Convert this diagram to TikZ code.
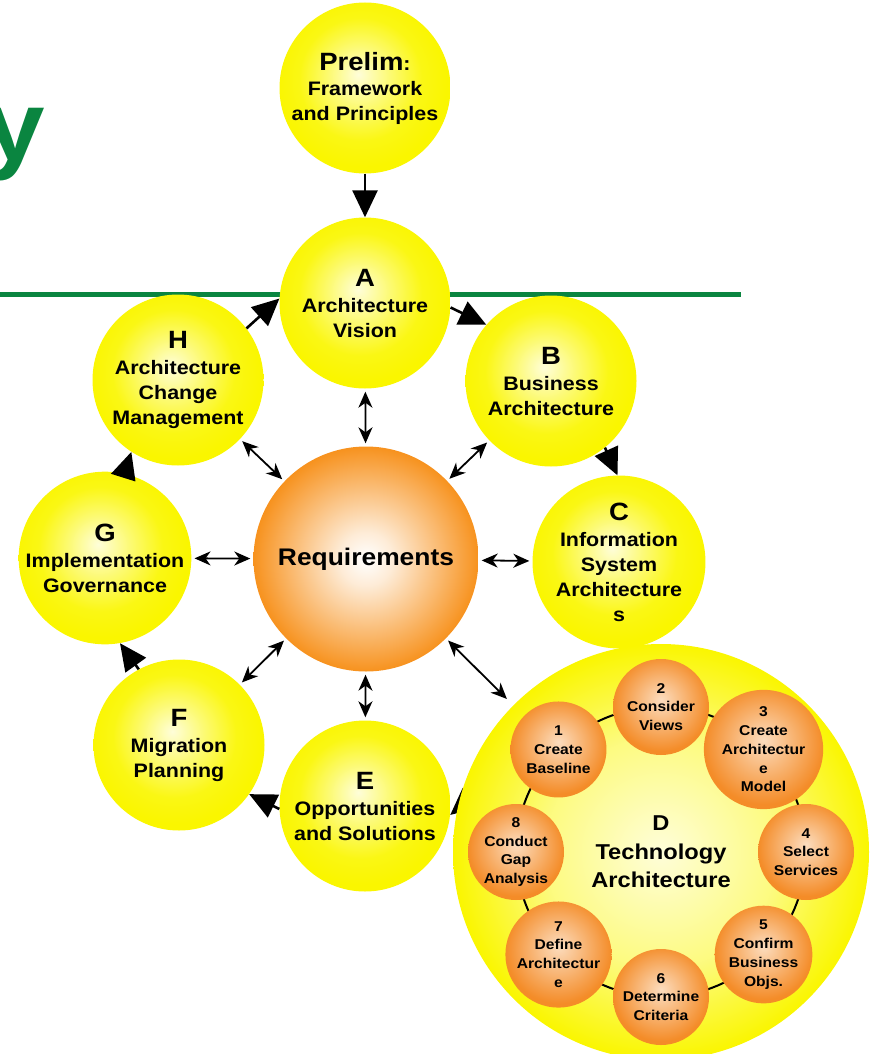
\documentclass[tikz,border=0pt]{standalone}
\usepackage{fontspec}
\setmainfont{Liberation Sans}[FakeStretch=1.1]
\usetikzlibrary{arrows.meta}
\definecolor{togafgreen}{RGB}{10,133,64}
\definecolor{ballyellow}{RGB}{250,246,0}
\definecolor{reqorange}{RGB}{247,146,30}
\definecolor{steporange}{RGB}{244,140,40}
\pgfdeclareradialshading{phaseshade}{\pgfpoint{-2bp}{4bp}}{color(0bp)=(white!85!ballyellow); color(9bp)=(white!45!ballyellow); color(18bp)=(white!8!ballyellow); color(25bp)=(ballyellow); color(50bp)=(ballyellow)}
\pgfdeclareradialshading{reqshade}{\pgfpoint{0bp}{0bp}}{color(0bp)=(white); color(6bp)=(white!82!reqorange); color(25bp)=(reqorange); color(50bp)=(reqorange)}
\pgfdeclareradialshading{stepshade}{\pgfpoint{0bp}{4bp}}{color(0bp)=(white!70!steporange); color(25bp)=(steporange); color(50bp)=(steporange)}
\pgfdeclareradialshading{techshade}{\pgfpoint{0bp}{0bp}}{color(0bp)=(white!85!ballyellow); color(14bp)=(white!50!ballyellow); color(25bp)=(ballyellow); color(50bp)=(ballyellow)}
\newcommand{\phasetext}[2]{{\fontsize{25}{26}\selectfont #1}\\[1pt]#2}

\begin{document}
\begin{tikzpicture}[x=1pt,y=-1pt,
  phasenode/.style={circle,minimum size=171pt,inner sep=0pt,shading=phaseshade,align=center,font=\bfseries\fontsize{19.5}{25}\selectfont},
  reqnode/.style={circle,minimum size=225pt,inner sep=0pt,shading=reqshade,font=\bfseries\fontsize{24}{28}\selectfont},
  technode/.style={circle,minimum size=416pt,inner sep=0pt,shading=techshade,align=center,font=\bfseries\fontsize{21.5}{28.5}\selectfont},
  stepnode/.style={circle,minimum size=96pt,inner sep=0pt,shading=stepshade,align=center,font=\bfseries\fontsize{14.2}{18.8}\selectfont},
  flow/.style={line width=2.6pt,-{Triangle[length=27pt,width=25pt]}},
  link/.style={line width=1.8pt,{Stealth[length=16pt,width=14pt,inset=5pt]}-{Stealth[length=16pt,width=14pt,inset=5pt]},shorten <=3pt,shorten >=3pt}]
\useasboundingbox (0,0) rectangle (876,1054);

% title remains and rule
\draw [togafgreen,line width=5.5pt] (0,294.5) -- (741,294.5);
\node [anchor=base east,inner sep=0pt,text=togafgreen,font=\bfseries\fontsize{99}{99}\selectfont] (title) at (45,160) {y};

% phases
\node [phasenode] (prelim) at (365,88) {{\fontsize{25}{26}\selectfont Prelim}:\\Framework\\and Principles};
\node [phasenode] (A) at (365,303) {\phasetext{A}{Architecture\\Vision}};
\node [phasenode] (B) at (551,381) {\phasetext{B}{Business\\Architecture}};
\node [phasenode] (C) at (619,562) {\phasetext{C}{Information\\System\\Architecture\\s}};
\node [phasenode] (E) at (365,806) {\phasetext{E}{Opportunities\\and Solutions}};
\node [phasenode] (F) at (179,745) {\phasetext{F}{Migration\\Planning}};
\node [phasenode] (G) at (105,558) {\phasetext{G}{Implementation\\Governance}};
\node [phasenode] (H) at (178,380) {\phasetext{H}{Architecture\\Change\\Management}};
\node [reqnode] (req) at (366,559) {Requirements};

\coordinate (Din) at (604,702);
\coordinate (Dout) at (540,740);

% cycle
\path [flow]
(prelim) edge (A)
(A.-3) edge (B.139)
(B.-51) edge (C.91)
(C.-88) edge (Din)
(Dout) edge (E.-6)
(E.182) edge (F.-35)
(F.118) edge (G.-80)
(G.77) edge (H.-123)
(H.37) edge (A.177)
;

\path [link]
(req) edge (A)
(req) edge (B)
(req) edge (C)
(req) edge (E)
(req) edge (F)
(req) edge (G)
(req) edge (H)
;

% phase D and its steps
\node [technode] (D) at (661,852) {D\\Technology\\Architecture};
\draw [line width=2pt] (D.center) circle [radius=145pt];

\node [stepnode] (d1) at ([shift={(135:145pt)}]D.center) {1\\Create\\Baseline};
\node [stepnode] (d2) at ([shift={(90:145pt)}]D.center) {2\\Consider\\Views};
\node [stepnode] (d3) at ([shift={(45:145pt)}]D.center) {3\\Create\\Architectur\\e\\Model};
\node [stepnode] (d4) at ([shift={(0:145pt)}]D.center) {4\\Select\\Services};
\node [stepnode] (d5) at ([shift={(-45:145pt)}]D.center) {5\\Confirm\\Business\\Objs.};
\node [stepnode] (d6) at ([shift={(-90:145pt)}]D.center) {6\\Determine\\Criteria};
\node [stepnode] (d7) at ([shift={(-135:145pt)}]D.center) {7\\Define\\Architectur\\e};
\node [stepnode] (d8) at ([shift={(180:145pt)}]D.center) {8\\Conduct\\Gap\\Analysis};

\path [link]
(req) edge [shorten >=9pt] (D)
;
\end{tikzpicture}
\end{document}
